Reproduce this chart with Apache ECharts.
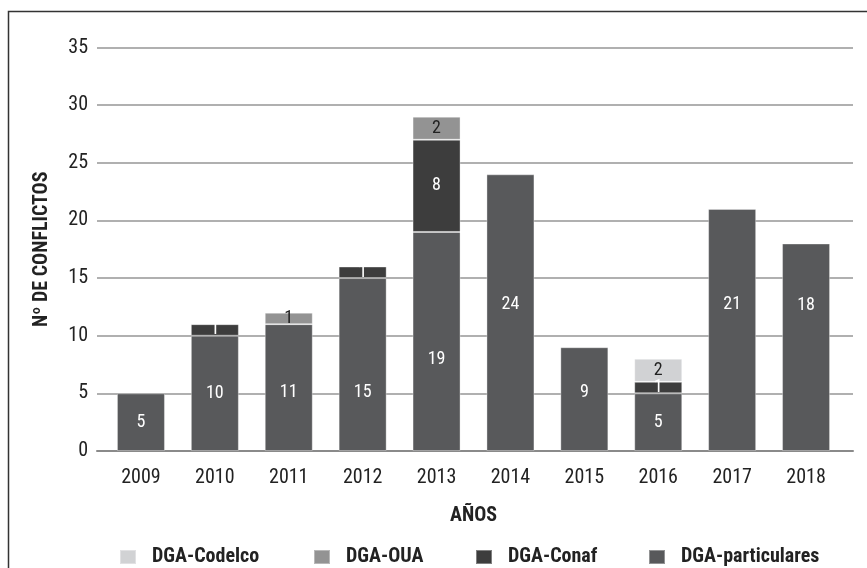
<!DOCTYPE html>
<html><head><meta charset="utf-8">
<script src="https://cdn.jsdelivr.net/npm/echarts@6/dist/echarts.min.js"></script>
<style>html,body{margin:0;padding:0;background:#fff}#c{width:867px;height:568px}</style>
</head><body><div id="c"></div>
<script>
const years = ['2009','2010','2011','2012','2013','2014','2015','2016','2017','2018'];
const particulares = [5,10,11,15,19,24,9,5,21,18];
const conaf        = [0,1,0,1,8,0,0,1,0,0];
const oua          = [0,0,1,0,2,0,0,0,0,0];
const codelco      = [0,0,0,0,0,0,0,2,0,0];
const yTicks = [0,5,10,15,20,25,30,35];

const FONT = "'Liberation Sans Narrow','Arial Narrow','Roboto Condensed',sans-serif";
const labelShift = [0,0,5,28,18,-8,-7,0,-25,-42];

function seg(vals, shift){
  return vals.map((v,i)=> v===0 ? {value:'-'} : (shift ? {value:v,label:{offset:[0,shift[i]]}} : v));
}
const chart = echarts.init(document.getElementById('c'), null, {renderer:'canvas'});
const baseLabel = {show:true, position:'inside', fontFamily:FONT, fontSize:18};
const mk = (name, vals, color, txt, shift)=>({
  name, type:'bar', stack:'t', xAxisIndex:1, yAxisIndex:1, barWidth:48,
  itemStyle:{color, borderColor:'rgba(255,255,255,0.35)', borderWidth:1},
  label:Object.assign({}, baseLabel, {color:txt}),
  data: seg(vals, shift)
});
const legendItem = (name, left)=>({
  data:[name], left, top:542, itemWidth:16, itemHeight:14, itemGap:10,
  icon:'rect', selectedMode:false,
  textStyle:{fontFamily:FONT, fontWeight:'bold', fontSize:20, color:'#222', padding:[0,0,0,11]}
});
chart.setOption({
  animation:false,
  graphic:[{type:'rect', shape:{x:8.5,y:11.5,width:900,height:600}, style:{fill:'none', stroke:'#333', lineWidth:1.5}, silent:true}],
  grid:[
    {left:97, right:14, top:47.5, bottom:117},
    {left:104, right:24, top:47.5, bottom:117}
  ],
  legend:[
    legendItem('DGA-Codelco',114),
    legendItem('DGA-OUA',308),
    legendItem('DGA-Conaf',470),
    legendItem('DGA-particulares',643)
  ],
  xAxis:[
    {gridIndex:0, type:'value', min:0, max:1, axisLine:{show:true, onZero:false, lineStyle:{color:'#8a8a8a', width:2}},
     axisTick:{show:false}, axisLabel:{show:false}, splitLine:{show:false}},
    {gridIndex:1, type:'category', data:years, axisLine:{show:false}, axisTick:{show:false},
     axisLabel:{fontFamily:FONT, fontSize:20, color:'#222', margin:17},
     name:'AÑOS', nameLocation:'middle', nameGap:55,
     nameTextStyle:{fontFamily:FONT, fontWeight:'bold', fontSize:20, color:'#222'}}
  ],
  yAxis:[
    {gridIndex:0, type:'value', min:0, max:35, interval:5,
     axisLine:{show:false}, axisTick:{show:false},
     axisLabel:{fontFamily:FONT, fontSize:20, color:'#222', margin:9,
       formatter:(v)=> yTicks.includes(v) ? String(v) : ''},
     splitLine:{lineStyle:{color:'#b0b0b0', width:2}},
     name:'Nº DE CONFLICTOS', nameLocation:'middle', nameGap:45, nameRotate:90,
     nameTextStyle:{fontFamily:FONT, fontWeight:'bold', fontSize:20, color:'#222'}},
    {gridIndex:1, type:'value', min:0, max:35, interval:5, show:false, splitLine:{show:false}}
  ],
  series:[
    mk('DGA-particulares', particulares, '#58595b', '#fff', labelShift),
    mk('DGA-Conaf', conaf, '#3d3d3d', '#fff'),
    mk('DGA-OUA', oua, '#939393', '#222'),
    mk('DGA-Codelco', codelco, '#d1d2d4', '#222')
  ]
});
</script></body></html>
